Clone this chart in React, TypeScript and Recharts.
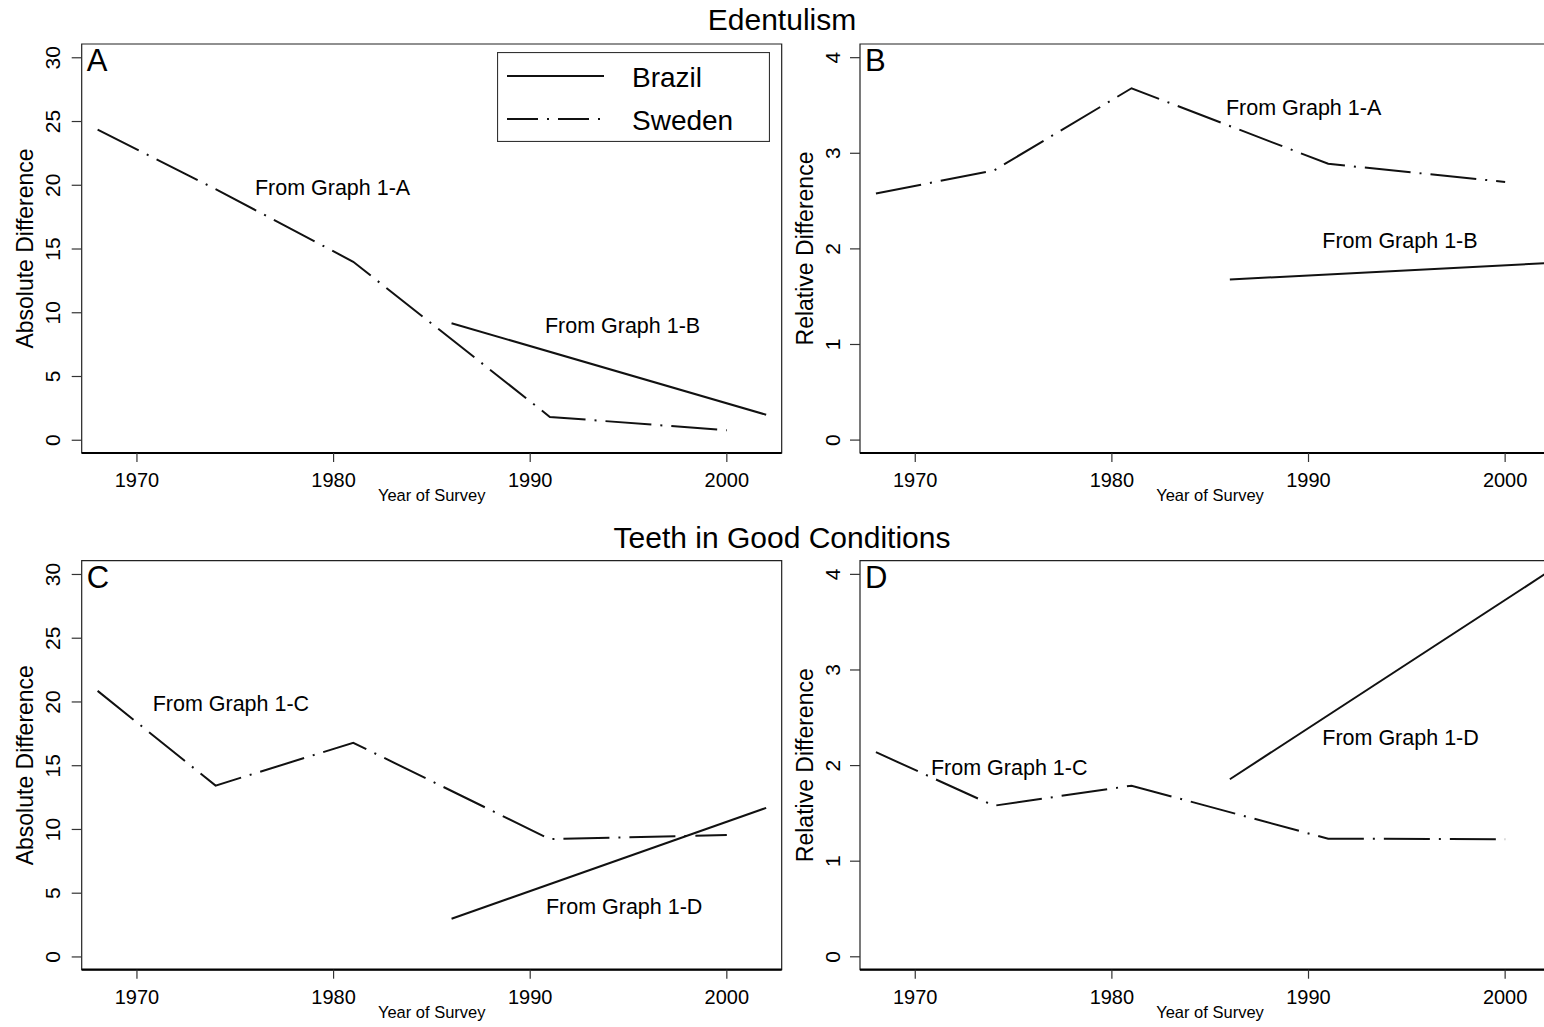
import React from "react"
import { LineChart, Line, XAxis, YAxis, Legend, ReferenceArea, ReferenceDot } from "recharts"

const FONT = '"Liberation Sans", Arial, Helvetica, sans-serif'
const INK = "#111"

// survey years
const swedenYears = [1968, 1974, 1981, 1991, 2000]
const brazilYears = [1986, 2002]

// A: edentulism, absolute difference
const edentAbsSweden = [24.36, 19.7, 14.0, 1.83, 0.78]
const edentAbsBrazil = [9.18, 2.0]
// B: edentulism, relative difference
const edentRelSweden = [2.58, 2.82, 3.68, 2.89, 2.7]
const edentRelBrazil = [1.68, 1.85]
// C: teeth in good conditions, absolute difference
const teethAbsSweden = [20.87, 13.44, 16.8, 9.24, 9.57]
const teethAbsBrazil = [3.0, 11.69]
// D: teeth in good conditions, relative difference
const teethRelSweden = [2.14, 1.58, 1.79, 1.235, 1.23]
const teethRelBrazil = [1.857, 4.0]

const xTicks = [1970, 1980, 1990, 2000]
const absTicks = [0, 5, 10, 15, 20, 25, 30]
const relTicks = [0, 1, 2, 3, 4]

const xDomain: [number, number] = [1967.19, 2002.79]
const absDomain: [number, number] = [-1.0, 31.08]
const relDomain: [number, number] = [-0.135, 4.143]

type Note = { text: string; year: number; value: number }

const notesA: Note[] = [
  { text: "From Graph 1-A", year: 1976.0, value: 19.25 },
  { text: "From Graph 1-B", year: 1990.75, value: 8.4 },
]
const notesB: Note[] = [
  { text: "From Graph 1-A", year: 1985.8, value: 3.4 },
  { text: "From Graph 1-B", year: 1990.7, value: 2.01 },
]
const notesC: Note[] = [
  { text: "From Graph 1-C", year: 1970.8, value: 19.27 },
  { text: "From Graph 1-D", year: 1990.8, value: 3.39 },
]
const notesD: Note[] = [
  { text: "From Graph 1-C", year: 1970.8, value: 1.9 },
  { text: "From Graph 1-D", year: 1990.7, value: 2.22 },
]

const toRows = (years: number[], values: number[]) =>
  years.map((year, i) => ({ year, value: values[i] }))

const YTick = ({ x, y, payload }: any) => (
  <text
    x={x}
    y={y}
    transform={`rotate(-90 ${x} ${y})`}
    textAnchor="middle"
    fontSize={21}
    fontFamily={FONT}
    fill="#000"
  >
    {payload.value}
  </text>
)

const XTick = ({ x, y, payload }: any) => (
  <text x={x} y={y + 25} textAnchor="middle" fontSize={20} fontFamily={FONT} fill="#000">
    {payload.value}
  </text>
)

const LegendBox = () => (
  <svg width={273} height={90}>
    <rect x={0.5} y={0.5} width={272} height={89} fill="#fff" stroke="#333" strokeWidth={1.2} />
    <line x1={10} y1={24} x2={107} y2={24} stroke={INK} strokeWidth={2} />
    <text x={135} y={35} fontSize={28} fontFamily={FONT} fill="#000">Brazil</text>
    <line x1={10} y1={67} x2={107} y2={67} stroke={INK} strokeWidth={2} strokeDasharray="31 9 2 9" />
    <text x={135} y={78} fontSize={28} fontFamily={FONT} fill="#000">Sweden</text>
  </svg>
)

interface PanelProps {
  left: number
  top: number
  axisWidth: number
  marginTop: number
  letter: string
  yLabel: string
  yDomain: [number, number]
  yTicks: number[]
  sweden: { year: number; value: number }[]
  brazil: { year: number; value: number }[]
  notes: Note[]
  legend?: boolean
}

function Panel(p: PanelProps) {
  const width = p.axisWidth + 700 + 10
  return (
    <div style={{ position: "absolute", left: p.left, top: p.top }}>
      <LineChart width={width} height={520} margin={{ top: p.marginTop, right: 10, bottom: 520 - p.marginTop - 409 - 60, left: 0 }}>
        <ReferenceArea
          x1={xDomain[0]}
          x2={xDomain[1]}
          y1={p.yDomain[0]}
          y2={p.yDomain[1]}
          fill="none"
          fillOpacity={0}
          stroke="#222"
          strokeWidth={1.2}
          label={{ value: p.letter, position: "insideTopLeft", offset: 5, fontSize: 31, fontFamily: FONT, fill: "#000" }}
        />
        <XAxis
          type="number"
          dataKey="year"
          domain={xDomain}
          ticks={xTicks}
          allowDataOverflow
          height={60}
          tickSize={9}
          tickMargin={0}
          tick={<XTick />}
          axisLine={{ stroke: "#000", strokeWidth: 2.2 }}
          tickLine={{ stroke: "#333", strokeWidth: 1.2 }}
          label={{
            content: ({ viewBox }: any) => (
              <text
                x={viewBox.x + viewBox.width / 2}
                y={viewBox.y + 48}
                textAnchor="middle"
                fontSize={16.5}
                fontFamily={FONT}
                fill="#000"
              >
                Year of Survey
              </text>
            ),
          }}
        />
        <YAxis
          type="number"
          domain={p.yDomain}
          ticks={p.yTicks}
          allowDataOverflow
          width={p.axisWidth}
          tickSize={10}
          tickMargin={p.axisWidth - 80 + 10}
          tick={<YTick />}
          axisLine={false}
          tickLine={{ stroke: "#333", strokeWidth: 1.2 }}
          label={{
            content: ({ viewBox }: any) => {
              const x = viewBox.x + 33
              const y = viewBox.y + viewBox.height / 2
              return (
                <text
                  x={x}
                  y={y}
                  transform={`rotate(-90 ${x} ${y})`}
                  textAnchor="middle"
                  fontSize={23}
                  fontFamily={FONT}
                  fill="#000"
                >
                  {p.yLabel}
                </text>
              )
            },
          }}
        />
        <Line
          data={p.brazil}
          dataKey="value"
          name="Brazil"
          stroke={INK}
          strokeWidth={2}
          dot={false}
          isAnimationActive={false}
        />
        <Line
          data={p.sweden}
          dataKey="value"
          name="Sweden"
          stroke={INK}
          strokeWidth={2}
          strokeDasharray="46 9 2 9"
          dot={false}
          isAnimationActive={false}
        />
        {p.notes.map((n) => (
          <ReferenceDot
            key={n.text}
            x={n.year}
            y={n.value}
            r={0}
            fill="none"
            stroke="none"
            label={{
              content: ({ viewBox }: any) => (
                <text x={viewBox.x} y={viewBox.y} fontSize={21.5} fontFamily={FONT} fill="#000">
                  {n.text}
                </text>
              ),
            }}
          />
        ))}
        {p.legend && (
          <Legend
            layout="vertical"
            verticalAlign="middle"
            align="center"
            content={() => <LegendBox />}
            wrapperStyle={{ left: 497, top: 52, width: 273, height: 90 }}
          />
        )}
      </LineChart>
    </div>
  )
}

export default function App() {
  const titleStyle: React.CSSProperties = {
    position: "absolute",
    left: 0,
    width: 1564,
    textAlign: "center",
    fontFamily: FONT,
    fontSize: 30,
    lineHeight: "30px",
    color: "#000",
  }
  return (
    <div
      style={{
        position: "absolute",
        left: 0,
        top: 0,
        width: 1544,
        height: 1027,
        overflow: "hidden",
        background: "#fff",
      }}
    >
      <div style={{ ...titleStyle, top: 4.6 }}>Edentulism</div>
      <div style={{ ...titleStyle, top: 522.6 }}>Teeth in Good Conditions</div>
      <Panel
        left={0}
        top={0}
        axisWidth={81.7}
        marginTop={44}
        letter="A"
        yLabel="Absolute Difference"
        yDomain={absDomain}
        yTicks={absTicks}
        sweden={toRows(swedenYears, edentAbsSweden)}
        brazil={toRows(brazilYears, edentAbsBrazil)}
        notes={notesA}
        legend
      />
      <Panel
        left={780}
        top={0}
        axisWidth={80}
        marginTop={44}
        letter="B"
        yLabel="Relative Difference"
        yDomain={relDomain}
        yTicks={relTicks}
        sweden={toRows(swedenYears, edentRelSweden)}
        brazil={toRows(brazilYears, edentRelBrazil)}
        notes={notesB}
      />
      <Panel
        left={0}
        top={517}
        axisWidth={81.7}
        marginTop={43.7}
        letter="C"
        yLabel="Absolute Difference"
        yDomain={absDomain}
        yTicks={absTicks}
        sweden={toRows(swedenYears, teethAbsSweden)}
        brazil={toRows(brazilYears, teethAbsBrazil)}
        notes={notesC}
      />
      <Panel
        left={780}
        top={517}
        axisWidth={80}
        marginTop={43.7}
        letter="D"
        yLabel="Relative Difference"
        yDomain={relDomain}
        yTicks={relTicks}
        sweden={toRows(swedenYears, teethRelSweden)}
        brazil={toRows(brazilYears, teethRelBrazil)}
        notes={notesD}
      />
    </div>
  )
}
